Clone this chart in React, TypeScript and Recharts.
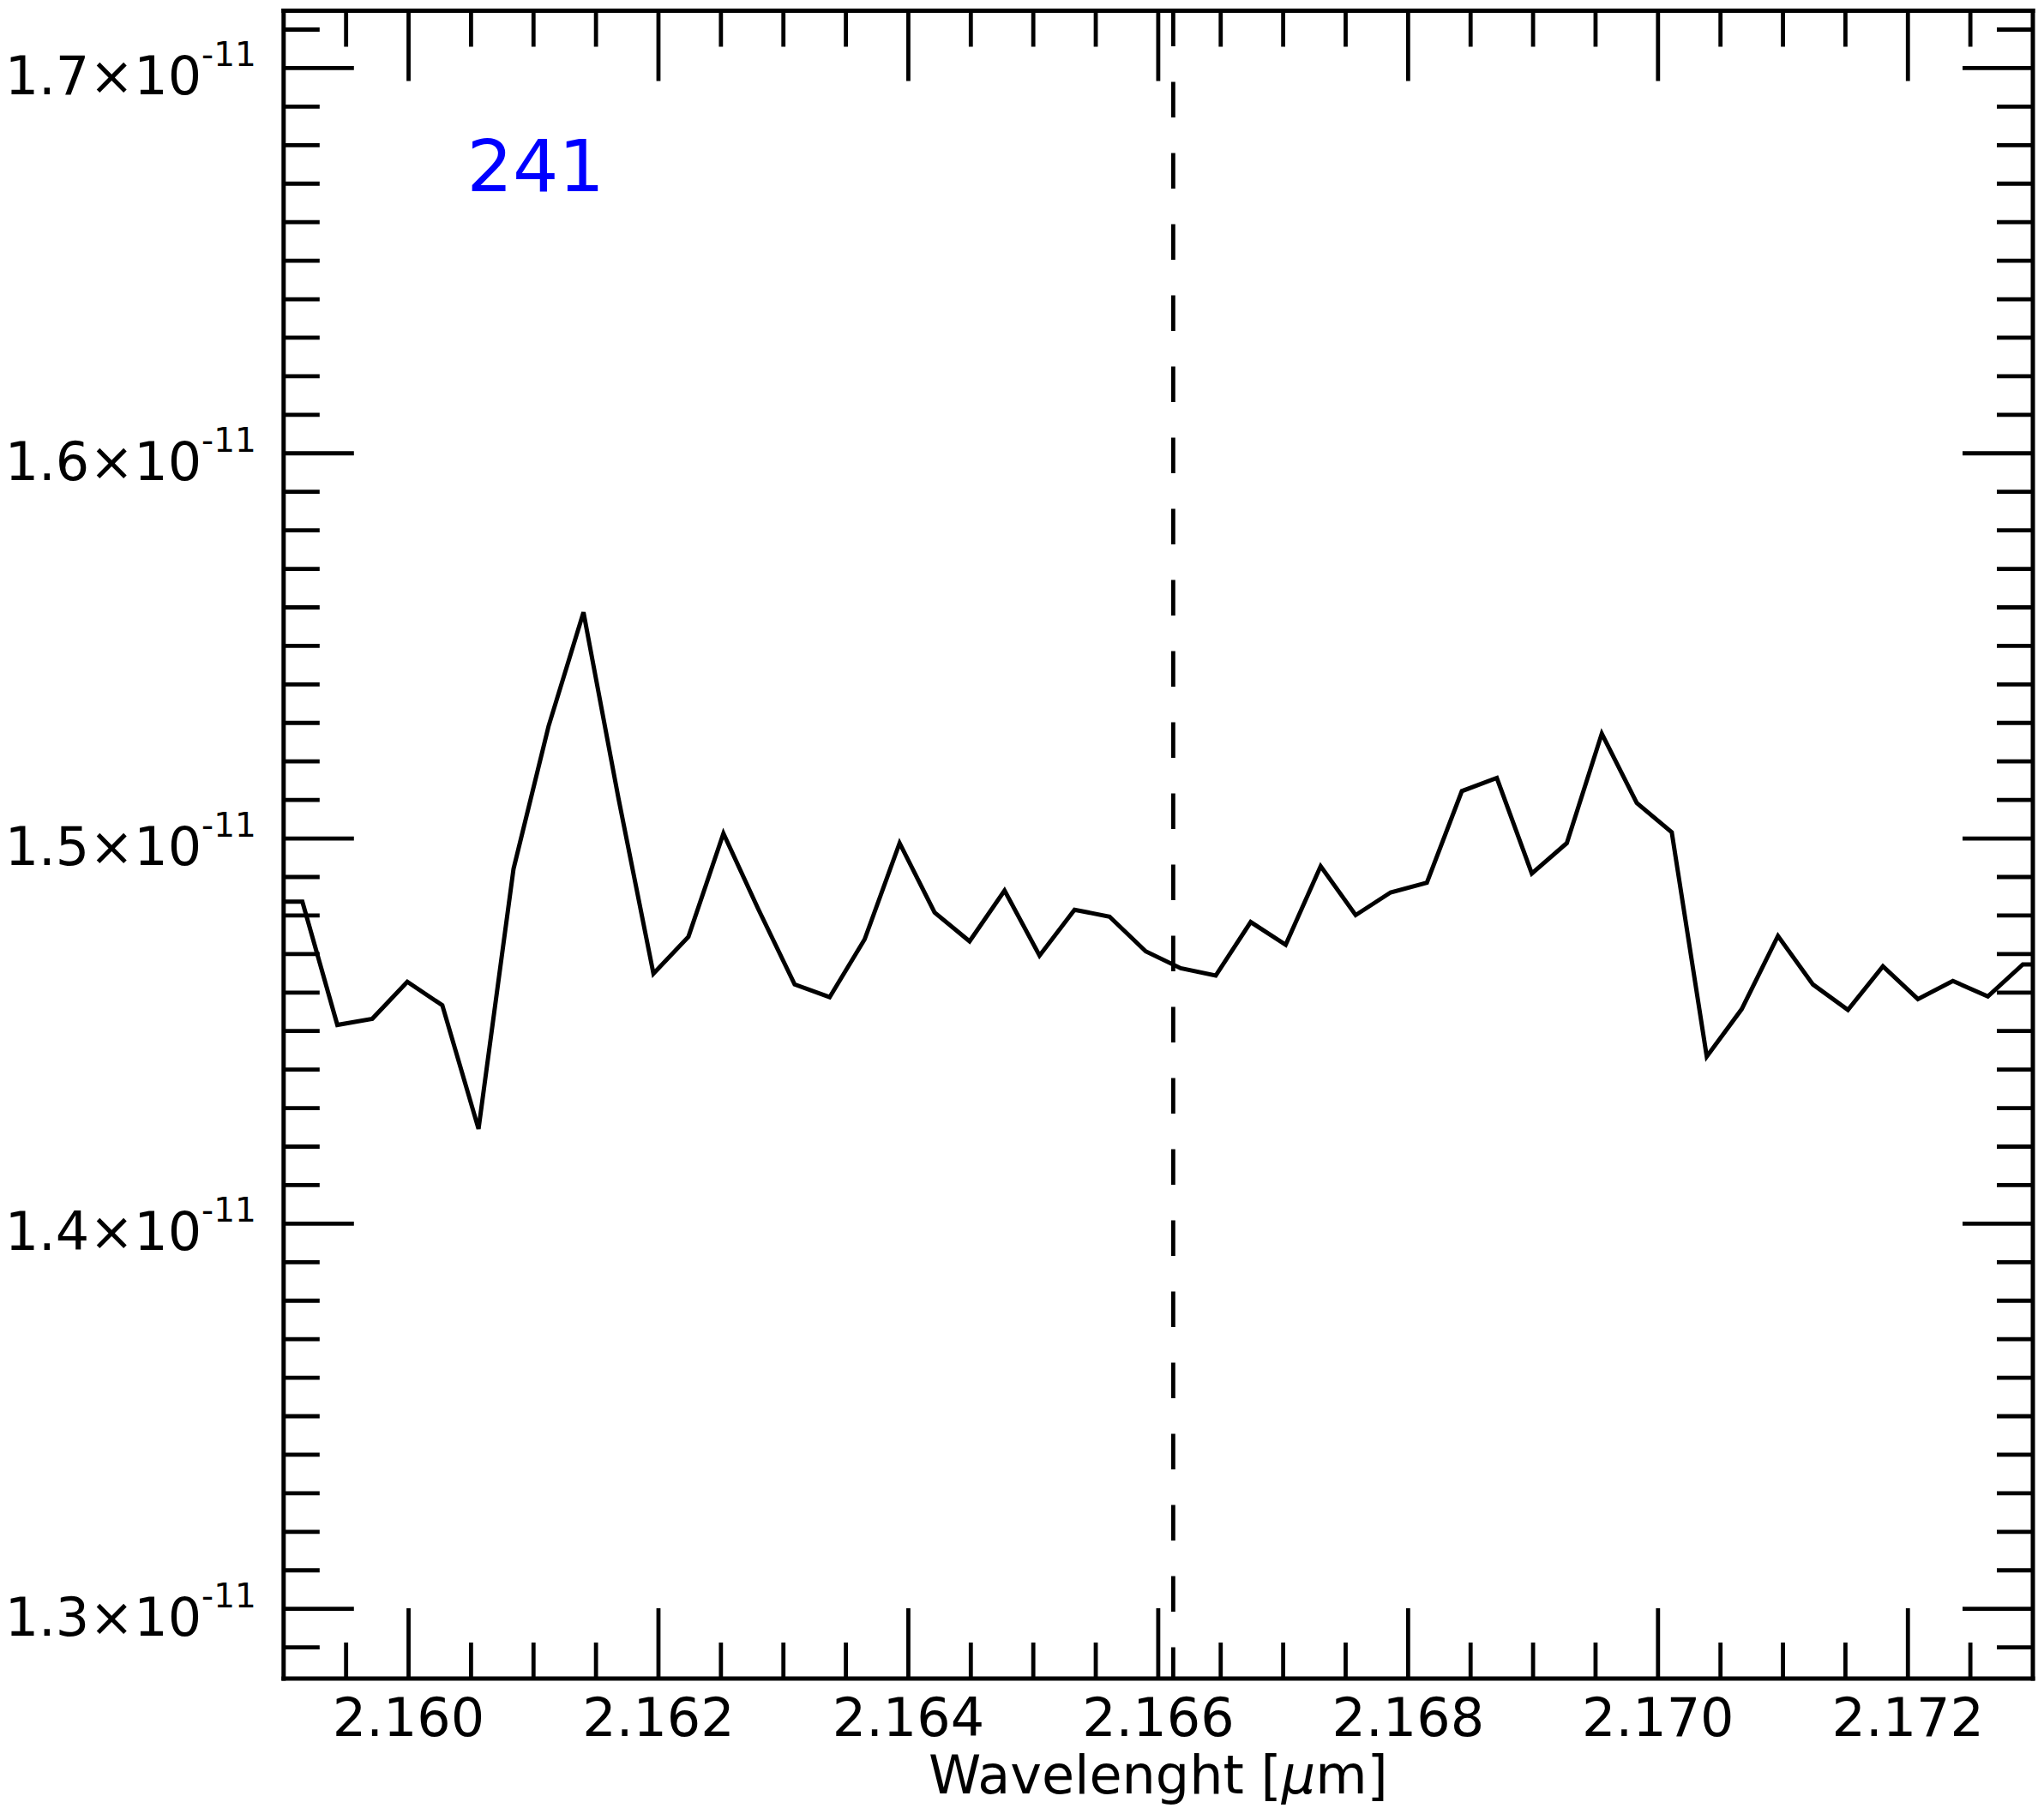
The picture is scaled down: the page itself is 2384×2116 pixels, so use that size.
import React from 'react';
import { LineChart, Line, XAxis, YAxis, ReferenceLine, Customized } from 'recharts';

// Wavelength samples [µm]
const wavelengths = [
  2.15887, 2.15915, 2.15943, 2.15971, 2.15999, 2.16027, 2.16056, 2.16084, 2.16112, 2.1614,
  2.16168, 2.16196, 2.16224, 2.16252, 2.1628, 2.16309, 2.16337, 2.16365, 2.16393, 2.16421,
  2.16449, 2.16477, 2.16505, 2.16533, 2.16561, 2.1659, 2.16618, 2.16646, 2.16674, 2.16702,
  2.1673, 2.16758, 2.16786, 2.16815, 2.16843, 2.16871, 2.16899, 2.16927, 2.16955, 2.16983,
  2.17011, 2.17039, 2.17067, 2.17096, 2.17124, 2.17152, 2.1718, 2.17208, 2.17236, 2.17264,
  2.17292, 2.1732,
];

// Flux values
const fluxes = [
  1.4836e-11, 1.4836e-11, 1.4516e-11, 1.4532e-11, 1.4628e-11, 1.4567e-11, 1.4246e-11, 1.4921e-11, 1.5291e-11, 1.5587e-11,
  1.5104e-11, 1.4649e-11, 1.4745e-11, 1.5013e-11, 1.4816e-11, 1.4621e-11, 1.4588e-11, 1.4738e-11, 1.4988e-11, 1.4808e-11,
  1.4733e-11, 1.4865e-11, 1.4696e-11, 1.4815e-11, 1.4797e-11, 1.4707e-11, 1.4663e-11, 1.4644e-11, 1.4783e-11, 1.4724e-11,
  1.4928e-11, 1.4801e-11, 1.486e-11, 1.4885e-11, 1.5123e-11, 1.5157e-11, 1.4909e-11, 1.4988e-11, 1.5272e-11, 1.5092e-11,
  1.5016e-11, 1.4434e-11, 1.4557e-11, 1.4747e-11, 1.4621e-11, 1.4555e-11, 1.4668e-11, 1.4583e-11, 1.463e-11, 1.459e-11,
  1.4673e-11, 1.4673e-11,
];

const xMajorTicks = [2.16, 2.162, 2.164, 2.166, 2.168, 2.17, 2.172];
const xMinorTicks = [
  2.1595, 2.1605, 2.161, 2.1615, 2.1625, 2.163, 2.1635, 2.1645, 2.165, 2.1655,
  2.1665, 2.167, 2.1675, 2.1685, 2.169, 2.1695, 2.1705, 2.171, 2.1715, 2.1725,
];
const yMajorTicks = [1.3e-11, 1.4e-11, 1.5e-11, 1.6e-11, 1.7e-11];
const yMinorTicks = [
  1.29e-11,
  1.31e-11, 1.32e-11, 1.33e-11, 1.34e-11, 1.35e-11, 1.36e-11, 1.37e-11, 1.38e-11, 1.39e-11,
  1.41e-11, 1.42e-11, 1.43e-11, 1.44e-11, 1.45e-11, 1.46e-11, 1.47e-11, 1.48e-11, 1.49e-11,
  1.51e-11, 1.52e-11, 1.53e-11, 1.54e-11, 1.55e-11, 1.56e-11, 1.57e-11, 1.58e-11, 1.59e-11,
  1.61e-11, 1.62e-11, 1.63e-11, 1.64e-11, 1.65e-11, 1.66e-11, 1.67e-11, 1.68e-11, 1.69e-11,
  1.71e-11,
];

const xDomain = [2.159, 2.173];
const yDomain = [1.2819e-11, 1.7149e-11];
const lineCenter = 2.16612;
const spectrumLabel = '241';

const data = wavelengths.map((wl, i) => ({ wl, flux: fluxes[i] }));

const FONT = 'DejaVu Sans';
const W = 2384;
const H = 2116;
const AX = 1; // axis thickness reserved (must be > 0 for axes to render)
const MARGIN = { top: 12.5 - AX, right: 13 - AX, bottom: 158 - AX, left: 330.8 - AX };
const MAJOR_LEN = 82;
const MINOR_LEN = 42;
const TICK_W = 4.8;

const isMajor = (v: number, list: number[], tol: number) => list.some((m) => Math.abs(m - v) < tol);

function BottomTick(props: any) {
  const { x, y, payload } = props;
  const major = isMajor(payload.value, xMajorTicks, 1e-7);
  const len = major ? MAJOR_LEN : MINOR_LEN;
  return (
    <g>
      <line x1={x} x2={x} y1={y} y2={y - len} stroke="#000" strokeWidth={TICK_W} />
      {major && (
        <text x={x} y={y + 67} textAnchor="middle" fontFamily={FONT} fontSize={62} fill="#000">
          {Number(payload.value).toFixed(3)}
        </text>
      )}
    </g>
  );
}

function TopTick(props: any) {
  const { x, y, payload } = props;
  const major = isMajor(payload.value, xMajorTicks, 1e-7);
  const len = major ? MAJOR_LEN : MINOR_LEN;
  return <line x1={x} x2={x} y1={y} y2={y + len} stroke="#000" strokeWidth={TICK_W} />;
}

function LeftTick(props: any) {
  const { x, y, payload } = props;
  const major = isMajor(payload.value, yMajorTicks, 1e-15);
  const len = major ? MAJOR_LEN : MINOR_LEN;
  const mant = (payload.value / 1e-11).toFixed(1);
  return (
    <g>
      <line x1={x} x2={x + len} y1={y} y2={y} stroke="#000" strokeWidth={TICK_W} />
      {major && (
        <text x={x - 32} y={y + 31} textAnchor="end" fontFamily={FONT} fontSize={62} fill="#000">
          {mant + '×10'}
          <tspan dy={-33} fontSize={39}>-11</tspan>
        </text>
      )}
    </g>
  );
}

function RightTick(props: any) {
  const { x, y, payload } = props;
  const major = isMajor(payload.value, yMajorTicks, 1e-15);
  const len = major ? MAJOR_LEN : MINOR_LEN;
  return <line x1={x} x2={x - len} y1={y} y2={y} stroke="#000" strokeWidth={TICK_W} />;
}

function Annotations() {
  const plotLeft = MARGIN.left + AX;
  const plotW = W - MARGIN.left - MARGIN.right - 2 * AX;
  const plotBottom = H - MARGIN.bottom - AX;
  return (
    <g>
      <text x={544.5} y={223} fontFamily={FONT} fontSize={84} fill="#0000ff">
        {spectrumLabel}
      </text>
      <text
        x={plotLeft + plotW / 2}
        y={plotBottom + 134}
        textAnchor="middle"
        fontFamily={FONT}
        fontSize={62}
        fill="#000"
      >
        {'Wavelenght ['}
        <tspan fontStyle="italic">μ</tspan>
        {'m]'}
      </text>
    </g>
  );
}

const axisLineStyle = { stroke: '#000', strokeWidth: 5, strokeLinecap: 'square' as const };

export default function App() {
  return (
    <div style={{ width: W, height: H, marginLeft: -8, marginTop: -8, background: '#fff' }}>
      <LineChart width={W} height={H} data={data} margin={MARGIN}>
        <XAxis
          xAxisId="b"
          dataKey="wl"
          type="number"
          domain={xDomain}
          allowDataOverflow
          orientation="bottom"
          height={AX}
          ticks={[...xMajorTicks, ...xMinorTicks]}
          interval={0}
          tickSize={0}
          tickMargin={0}
          tickLine={false}
          axisLine={axisLineStyle}
          tick={(p: any) => <BottomTick {...p} />}
        />
        <XAxis
          xAxisId="t"
          dataKey="wl"
          type="number"
          domain={xDomain}
          allowDataOverflow
          orientation="top"
          height={AX}
          ticks={[...xMajorTicks, ...xMinorTicks]}
          interval={0}
          tickSize={0}
          tickMargin={0}
          tickLine={false}
          axisLine={axisLineStyle}
          tick={(p: any) => <TopTick {...p} />}
        />
        <YAxis
          yAxisId="l"
          type="number"
          domain={yDomain}
          allowDataOverflow
          orientation="left"
          width={AX}
          ticks={[...yMajorTicks, ...yMinorTicks]}
          interval={0}
          tickSize={0}
          tickMargin={0}
          tickLine={false}
          axisLine={axisLineStyle}
          tick={(p: any) => <LeftTick {...p} />}
        />
        <YAxis
          yAxisId="r"
          type="number"
          domain={yDomain}
          allowDataOverflow
          orientation="right"
          width={AX}
          ticks={[...yMajorTicks, ...yMinorTicks]}
          interval={0}
          tickSize={0}
          tickMargin={0}
          tickLine={false}
          axisLine={axisLineStyle}
          tick={(p: any) => <RightTick {...p} />}
        />
        <ReferenceLine
          xAxisId="b"
          yAxisId="l"
          segment={[
            { x: lineCenter, y: yDomain[1] },
            { x: lineCenter, y: yDomain[0] },
          ]}
          stroke="#000"
          strokeWidth={4.8}
          strokeDasharray="41.5 41.5"
        />
        <Line
          xAxisId="b"
          yAxisId="l"
          dataKey="flux"
          type="linear"
          stroke="#000"
          strokeWidth={5}
          dot={false}
          activeDot={false}
          isAnimationActive={false}
        />
        <Customized component={Annotations} />
      </LineChart>
    </div>
  );
}
